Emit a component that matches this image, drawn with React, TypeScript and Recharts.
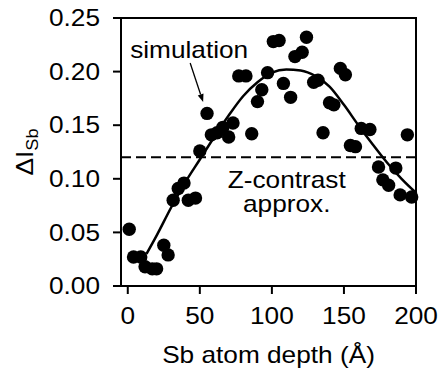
import React from 'react';
import {
  ComposedChart, Scatter, Line, XAxis, YAxis, ReferenceLine, ReferenceDot, ReferenceArea,
} from 'recharts';

// measured points (depth in Å, ΔI_Sb)
const depth = [
  1, 4, 9, 12, 17, 20, 25, 28, 31.5, 35, 39, 42, 47, 50, 55, 58, 62, 66, 70, 73, 86,
  77, 82, 90, 93, 97, 101, 105, 108, 113, 116, 121, 124, 129, 132, 135.5, 140, 143,
  147.5, 151, 154.5, 158, 162, 168, 174, 186, 177, 181, 189, 197, 194,
];
const deltaI = [
  0.053, 0.027, 0.027, 0.018, 0.016, 0.016, 0.038, 0.029, 0.080, 0.091, 0.096, 0.080, 0.082,
  0.126, 0.161, 0.141, 0.143, 0.148, 0.139, 0.152, 0.142, 0.196, 0.196, 0.172, 0.183, 0.199,
  0.228, 0.229, 0.189, 0.176, 0.214, 0.218, 0.232, 0.190, 0.192, 0.143, 0.171, 0.169, 0.203,
  0.197, 0.131, 0.130, 0.147, 0.146, 0.111, 0.110, 0.099, 0.094, 0.085, 0.083, 0.141,
];

// simulation curve
const fitDepth = [13, 20, 30, 40, 50, 60, 70, 80, 90, 100, 110, 120, 130, 140, 150, 160, 170, 180, 190, 200];
const fitDeltaI = [
  0.030, 0.047, 0.073, 0.097, 0.118, 0.139, 0.159, 0.177, 0.190, 0.199, 0.202, 0.201, 0.196,
  0.186, 0.169, 0.150, 0.132, 0.115, 0.100, 0.087,
];

const zContrast = 0.12;
const xTicks = [0, 50, 100, 150, 200];
const yTicks = [0, 0.05, 0.1, 0.15, 0.2, 0.25];
const xDomain: [number, number] = [-4.7, 200];
const yDomain: [number, number] = [0, 0.25];

// annotation anchors (data coords)
const arrowFrom = { x: 43.3, y: 0.208 };
const arrowTo = { x: 52.3, y: 0.1716 };
const zLabelAt = { x: 110.3, y: 0.0914 };

const FONT = '"Liberation Sans", Arial, Helvetica, sans-serif';
const SX = 1.14; // the source text is a little wider than Arial

const points = depth.map((d, i) => ({ x: d, y: deltaI[i] }));
const curve = fitDepth.map((d, i) => ({ x: d, y: fitDeltaI[i] }));

function WideText({ x, y, size = 23, anchor = 'middle', dy, children }: any) {
  return (
    <text
      transform={`translate(${x},${y}) scale(${SX},1)`}
      textAnchor={anchor}
      dy={dy}
      fontSize={size}
      fontFamily={FONT}
      fill="#000"
    >
      {children}
    </text>
  );
}

const XTick = (p: any) => (
  <WideText x={p.x} y={p.y} dy="0.71em">{p.payload.value}</WideText>
);

const YTick = (p: any) => (
  <WideText x={p.x} y={p.y} anchor="end" dy="0.355em">{Number(p.payload.value).toFixed(2)}</WideText>
);

const XLabel = ({ viewBox }: any) => (
  <WideText x={viewBox.x + viewBox.width / 2} y={viewBox.y + 77}>Sb atom depth (Å)</WideText>
);

const YLabel = ({ viewBox }: any) => {
  const cx = viewBox.x + 33;
  const cy = viewBox.y + viewBox.height / 2;
  return (
    <text
      transform={`translate(${cx},${cy}) rotate(-90) scale(${SX},1)`}
      textAnchor="middle"
      fontSize={23}
      fontFamily={FONT}
      fill="#000"
    >
      ΔI<tspan fontSize={16} dy={5}>Sb</tspan>
    </text>
  );
};

const SimArrow = (p: any) => {
  const { x1, y1, x2, y2 } = p;
  const len = Math.hypot(x2 - x1, y2 - y1);
  const ux = (x2 - x1) / len;
  const uy = (y2 - y1) / len;
  const hl = 8;
  const hw = 3;
  const bx = x2 - ux * hl;
  const by = y2 - uy * hl;
  return (
    <g>
      <line x1={x1} y1={y1} x2={bx} y2={by} stroke="#000" strokeWidth={1.3} />
      <polygon
        points={`${x2},${y2} ${bx - uy * hw},${by + ux * hw} ${bx + uy * hw},${by - ux * hw}`}
        fill="#000"
      />
      <WideText x={x1 - 1} y={y1 - 5}>simulation</WideText>
    </g>
  );
};

const ZLabel = ({ viewBox }: any) => {
  const cx = viewBox.x + viewBox.width / 2;
  const cy = viewBox.y + viewBox.height / 2;
  return (
    <g>
      <WideText x={cx} y={cy}>Z-contrast</WideText>
      <WideText x={cx} y={cy + 24}>approx.</WideText>
    </g>
  );
};

export default function App() {
  return (
    <div style={{ position: 'absolute', left: 0, top: 0, background: '#fff' }}>
      <ComposedChart width={438} height={370} margin={{ top: 18, right: 22, bottom: 0, left: 0 }}>
        <XAxis
          type="number"
          dataKey="x"
          domain={xDomain}
          ticks={xTicks}
          height={84}
          axisLine={{ stroke: '#000', strokeWidth: 2 }}
          tickLine={{ stroke: '#000', strokeWidth: 2 }}
          tickSize={8}
          tickMargin={14}
          tick={XTick}
          label={<XLabel />}
        />
        <YAxis
          type="number"
          dataKey="y"
          domain={yDomain}
          ticks={yTicks}
          width={121}
          axisLine={{ stroke: '#000', strokeWidth: 2 }}
          tickLine={{ stroke: '#000', strokeWidth: 2 }}
          tickSize={8}
          tickMargin={13}
          tick={YTick}
          label={<YLabel />}
        />
        <ReferenceArea
          x1={xDomain[0]} x2={xDomain[1]} y1={yDomain[0]} y2={yDomain[1]}
          fill="none" fillOpacity={0} stroke="#000" strokeWidth={2}
        />
        <ReferenceLine y={zContrast} stroke="#000" strokeWidth={2} strokeDasharray="10 5" />
        <Scatter
          data={points}
          isAnimationActive={false}
          shape={(p: any) => <circle cx={p.cx} cy={p.cy} r={6.7} fill="#000" />}
        />
        <Line
          data={curve}
          dataKey="y"
          type="monotone"
          stroke="#000"
          strokeWidth={2.5}
          dot={false}
          activeDot={false}
          isAnimationActive={false}
        />
        <ReferenceLine segment={[arrowFrom, arrowTo]} shape={SimArrow} ifOverflow="visible" />
        <ReferenceDot
          x={zLabelAt.x} y={zLabelAt.y} r={1}
          fill="none" stroke="none"
          label={<ZLabel />}
        />
      </ComposedChart>
    </div>
  );
}
